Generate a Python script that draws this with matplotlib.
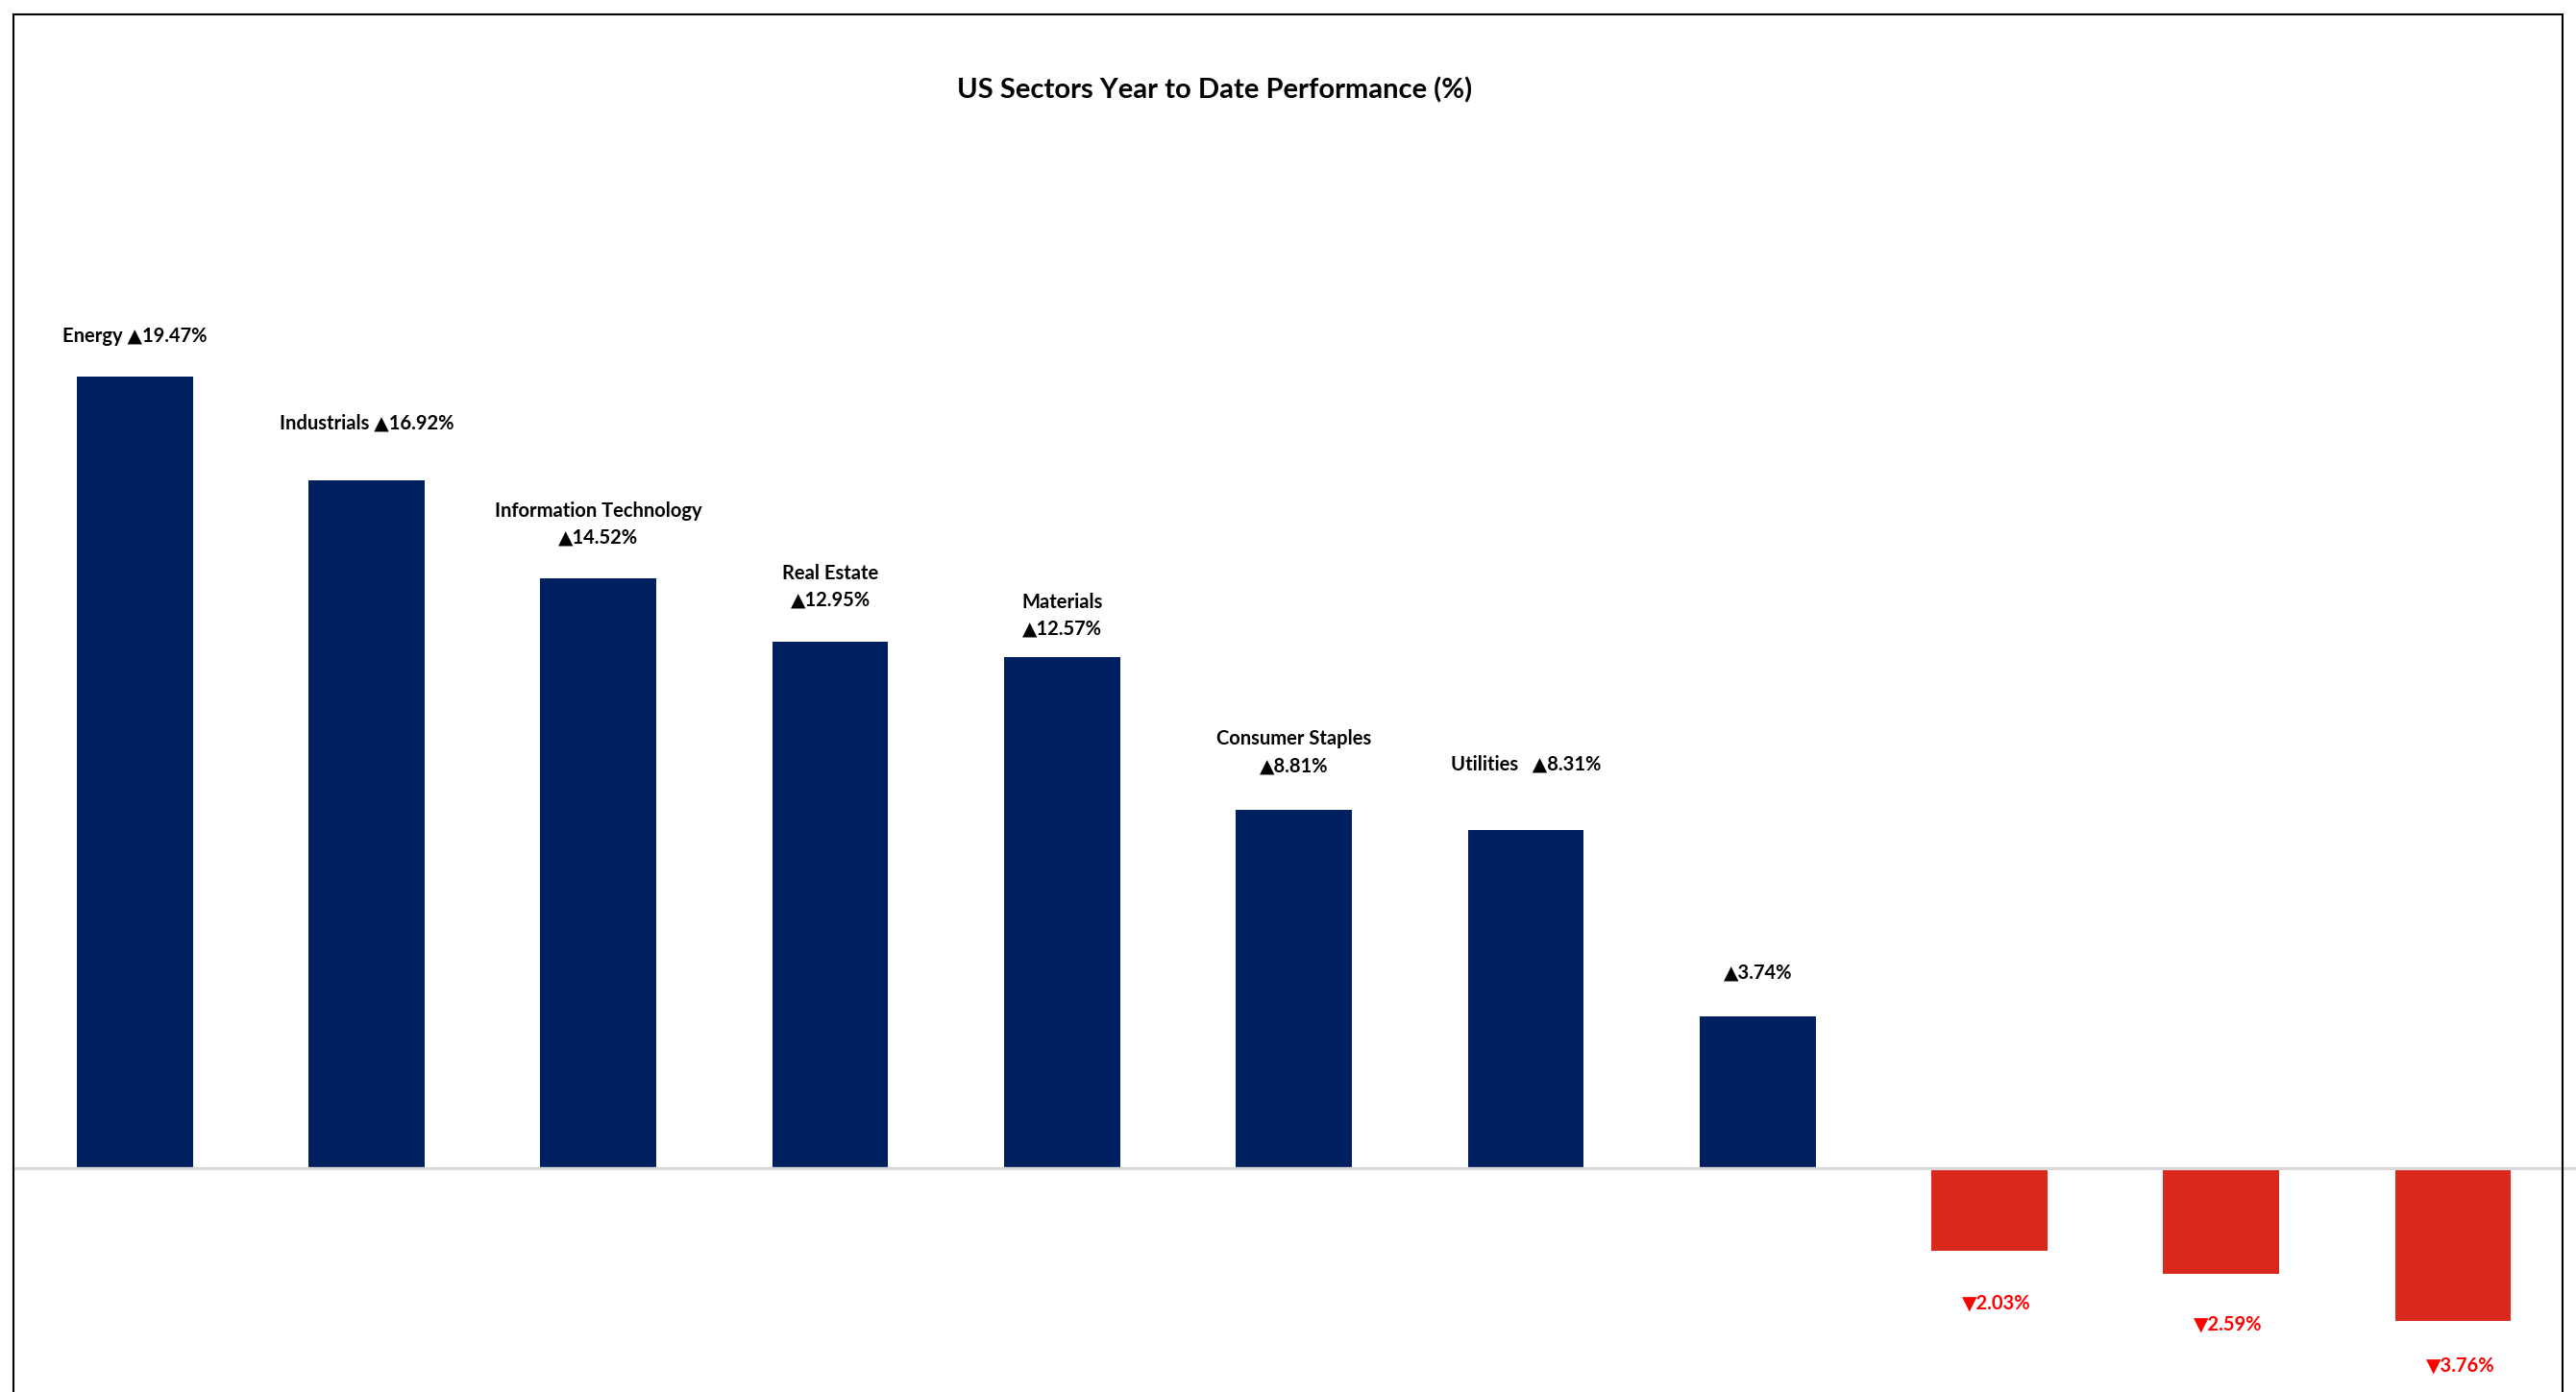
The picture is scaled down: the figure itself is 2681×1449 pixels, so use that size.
import matplotlib
matplotlib.use("Agg")
import matplotlib.pyplot as plt
from matplotlib.patches import Rectangle

# 数据
sectors = ['Energy', 'Industrials', 'Information Technology', 'Real Estate', 'Materials',
           'Consumer Staples', 'Utilities', '', '', '', '']
ytd = [19.47, 16.92, 14.52, 12.95, 12.57, 8.81, 8.31, 3.74, -2.03, -2.59, -3.76]

# 标签排版（名称与数值之间的分隔、标签中心与柱端的距离，单位 %）
name_sep = [' ', ' ', '\n', '\n', '\n', '\n', '   ', '', '', '', '']
label_pad = [1.01, 1.42, 1.33, 1.36, 1.03, 1.42, 1.62, 1.06, 1.30, 1.26, 1.10]

W, H = 2681, 1449
NAVY = '#002060'
RED = '#DA291C'
FONT = ['Lato', 'DejaVu Sans']

plt.rcParams['font.family'] = FONT

fig = plt.figure(figsize=(W / 100, H / 100), dpi=100)
ax = fig.add_axes([0, 0, 1, 1])

x = list(range(len(ytd)))
colors = [NAVY if v >= 0 else RED for v in ytd]
ax.bar(x, ytd, width=0.5, color=colors, zorder=2)
ax.axhline(0, xmin=14 / W, xmax=1, color='#D9D9D9', lw=2.4, zorder=3)

for i, (name, v) in enumerate(zip(sectors, ytd)):
    arrow = '▲' if v >= 0 else '▼'
    txt = f'{arrow}{abs(v):.2f}%'
    if name:
        txt = name + name_sep[i] + txt
    sign = 1 if v >= 0 else -1
    ax.text(i + (0.03 if v < 0 else 0), v + sign * label_pad[i], txt,
            ha='center', va='center', fontsize=14.5,
            fontweight='bold', color='black' if v >= 0 else '#FF0000',
            linespacing=1.5, multialignment='center')

ax.set_xlim(-0.581, 10.53)
ax.set_ylim(-5.51, 28.75)
ax.axis('off')

fig.text(1264 / W, 1 - 94 / H, 'US Sectors Year to Date Performance (%)',
         ha='center', va='center', fontsize=21, fontweight='bold')

# 外框（底边在图外）
fig.add_artist(Rectangle((14 / W, -0.05), (2667 - 14) / W, 1.05 - 15 / H,
                         transform=fig.transFigure, fill=False, ec='black', lw=1.5))

fig.savefig('out.png', dpi=100)
